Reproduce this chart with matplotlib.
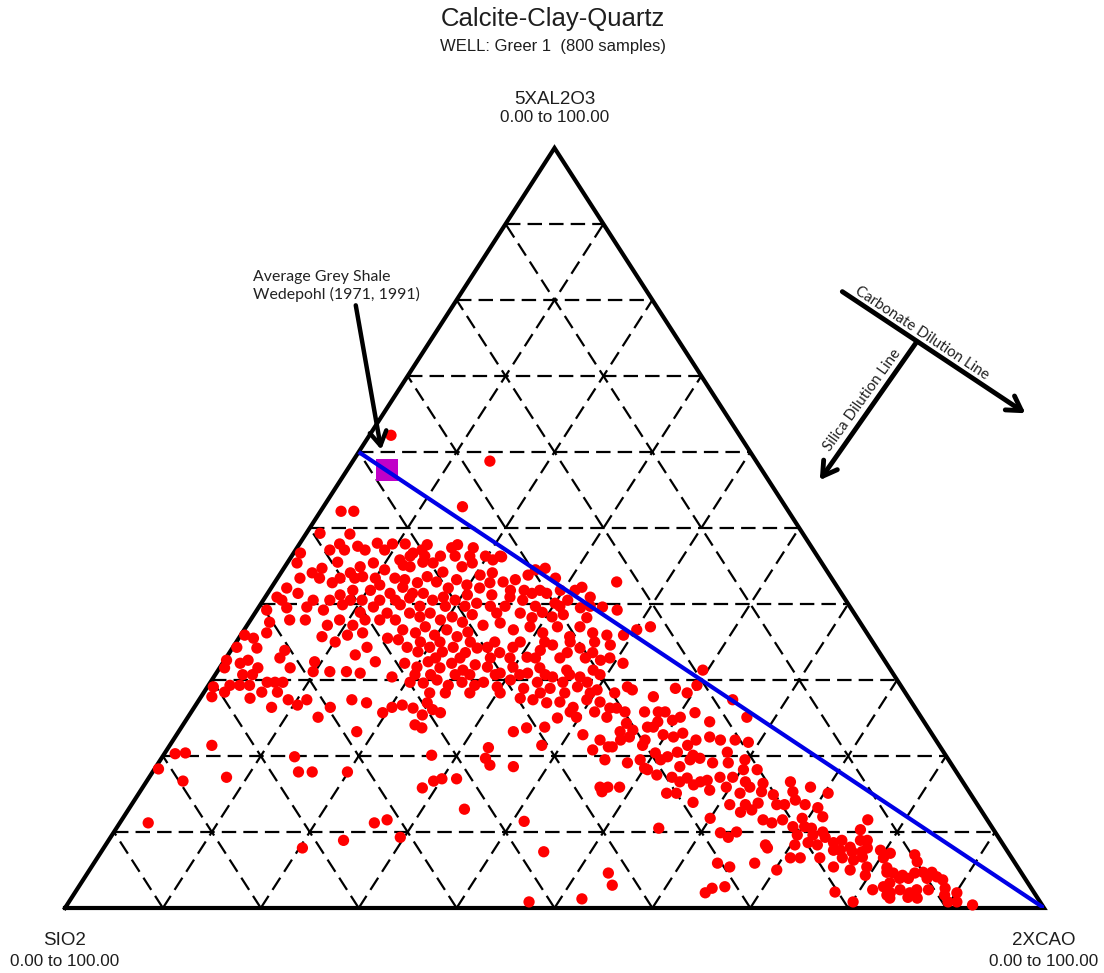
import matplotlib
matplotlib.use("Agg")
import matplotlib.pyplot as plt
from matplotlib.patches import FancyArrowPatch
import numpy as np

# Sample compositions in percent: (calcite = 2xCaO, clay = 5xAl2O3).
# Quartz (SiO2) is the remainder to 100.
clay_rich = [
    (2.2, 62.2), (14.0, 58.8), (14.2, 52.8), (2.1, 52.2), (3.4, 52.2),
    (1.4, 49.3), (4.5, 49.2), (4.1, 47.9), (6.1, 47.6), (7.9, 48.0), (9.5, 47.9),
    (10.8, 47.9), (12.2, 46.7), (0.7, 46.7), (1.0, 45.4), (3.2, 44.1), (3.9, 44.7),
    (5.1, 45.5), (7.1, 44.1), (7.7, 44.9), (8.8, 45.4), (10.4, 44.5), (11.3, 45.8),
    (12.8, 44.9), (1.6, 42.1), (1.2, 40.9), (3.1, 41.4), (5.1, 40.5), (5.9, 42.8),
    (7.5, 41.2), (8.5, 41.8), (8.6, 43.6), (10.3, 41.8), (10.9, 42.5), (12.5, 41.4),
    (13.4, 42.2), (14.8, 41.4), (1.0, 39.2), (2.9, 39.5), (4.9, 39.6), (6.8, 39.2),
    (8.4, 39.9), (10.7, 38.9), (11.7, 39.6), (13.5, 38.8), (14.3, 39.9), (15.8, 38.8),
    (3.5, 47.1), (5.0, 47.1), (7.1, 47.1), (9.1, 47.1), (2.3, 43.4), (4.3, 43.4),
    (6.4, 43.4), (7.9, 43.4), (10.0, 43.4), (12.0, 43.4), (1.9, 40.5), (6.8, 40.5),
    (8.9, 40.5), (10.1, 40.5), (11.9, 40.5), (13.5, 40.5), (4.0, 37.9), (5.6, 37.9),
    (9.1, 37.9), (11.7, 37.9), (13.2, 37.9), (14.8, 37.9),
]

main_cluster = [
    (12.9, 47.1), (13.1, 47.8), (15.8, 47.4), (16.2, 47.8), (18.0, 47.4), (12.0, 45.1),
    (13.8, 45.5), (14.9, 45.4), (16.5, 44.2), (18.1, 44.9), (18.9, 45.4), (20.5, 43.8),
    (21.6, 44.1), (20.8, 45.8), (21.5, 46.2), (13.1, 43.2), (14.6, 42.8), (15.2, 43.6),
    (16.5, 42.9), (18.1, 42.1), (18.4, 43.2), (19.8, 42.5), (21.3, 42.1), (22.0, 42.8),
    (23.3, 42.9), (24.4, 43.2), (25.4, 43.8), (25.8, 44.5), (26.7, 44.7), (28.4, 43.4),
    (31.7, 42.2), (33.2, 40.9), (34.9, 42.9), (14.8, 40.8), (15.9, 41.4), (17.3, 40.5),
    (18.2, 40.9), (19.6, 40.5), (20.5, 41.2), (22.0, 40.1), (23.0, 41.2), (25.0, 40.9),
    (26.5, 40.5), (27.0, 41.4), (28.5, 41.4), (30.0, 40.1), (31.1, 40.5), (32.9, 39.5),
    (35.1, 39.6), (36.8, 39.2), (17.1, 38.3), (17.9, 38.8), (19.4, 37.9), (20.4, 38.3),
    (21.8, 37.6), (22.3, 38.6), (24.7, 38.8), (27.1, 38.8), (28.6, 38.2), (29.3, 38.9),
    (30.6, 38.3), (31.6, 38.6), (34.2, 38.2), (16.2, 36.6), (17.7, 36.2), (18.3, 37.0),
    (19.8, 35.9), (20.7, 36.6), (22.2, 35.7), (23.0, 36.3), (17.8, 34.3), (19.2, 33.7),
    (20.1, 34.3), (21.7, 33.7), (22.5, 34.3), (24.1, 33.6), (25.0, 34.2), (18.6, 32.2),
    (20.1, 31.7), (20.9, 32.4), (22.5, 31.6), (23.4, 32.2), (25.0, 31.3), (25.9, 32.0),
    (20.4, 29.7), (21.8, 29.6), (23.0, 30.0), (24.5, 29.3), (25.7, 29.7), (27.2, 29.3),
    (12.1, 46.3), (13.6, 46.3), (15.2, 46.3), (16.7, 46.3), (18.2, 46.3), (19.8, 46.3),
    (21.3, 46.3), (24.6, 41.8), (26.0, 41.8), (27.6, 41.8), (29.7, 41.8), (31.2, 41.8),
    (16.4, 39.7), (19.0, 39.7), (21.0, 39.7), (23.6, 39.7), (25.1, 39.7), (28.2, 39.7),
    (30.7, 39.7), (33.8, 39.7), (18.8, 35.0), (20.8, 35.0), (23.9, 35.0), (26.4, 35.0),
    (29.0, 35.0), (31.5, 35.0), (34.1, 35.0), (36.6, 35.0), (21.4, 32.9), (23.9, 32.9),
    (27.0, 32.9), (29.0, 32.9), (31.6, 32.9), (34.1, 32.9), (36.7, 32.9), (39.2, 32.9),
    (20.4, 30.7), (22.0, 30.7), (24.5, 30.7), (26.0, 30.7), (28.6, 30.7), (31.1, 30.7),
    (33.7, 30.7), (36.2, 30.7), (39.3, 30.7), (23.1, 28.3), (24.7, 28.3), (27.2, 28.3),
    (30.3, 28.3), (34.4, 28.3), (36.9, 28.3), (39.5, 28.3), (42.0, 28.3),
]

siliceous = [
    (2.1, 37.6), (8.2, 37.2), (10.1, 35.0), (8.4, 35.7), (10.9, 35.9), (10.8, 37.2),
    (12.3, 36.2), (13.0, 33.3), (13.7, 34.3), (15.5, 32.4), (15.2, 35.5), (16.4, 35.3),
    (0.4, 35.9), (1.5, 35.5), (0.4, 34.3), (2.5, 34.2), (0.2, 32.6), (1.8, 32.2),
    (2.4, 32.6), (2.5, 36.2), (5.5, 33.9), (5.5, 32.9), (9.3, 32.4), (9.8, 31.1),
    (11.5, 31.1), (13.2, 31.1), (14.7, 30.9), (18.2, 30.4), (0.6, 29.1), (2.2, 29.3),
    (3.2, 29.3), (4.2, 29.3), (2.8, 30.7), (3.8, 30.7), (5.8, 29.7), (7.4, 29.7),
    (6.6, 29.7), (1.1, 27.8), (5.1, 27.6), (7.5, 28.4), (9.1, 27.4), (10.4, 26.7),
    (11.0, 27.4), (7.9, 26.4), (13.9, 26.4), (15.6, 27.4), (17.3, 27.0), (19.6, 25.7),
    (20.2, 26.4), (21.1, 26.7), (22.4, 26.3), (23.8, 25.4), (23.5, 27.0), (24.5, 26.1),
    (25.5, 25.7), (13.3, 25.1), (18.2, 23.2), (23.7, 24.1), (24.6, 23.7), (4.3, 21.4),
    (13.5, 19.9), (27.4, 20.1), (14.9, 17.9), (16.3, 17.9), (19.9, 17.9), (7.9, 17.2),
    (0.5, 31.6), (3.9, 31.6), (7.2, 31.6), (2.1, 28.4), (5.9, 28.4),
]

mixed = [
    (24.1, 37.2), (25.7, 37.5), (27.5, 36.6), (29.0, 37.0), (30.7, 36.2), (31.8, 37.0),
    (33.7, 35.7), (34.1, 37.0), (35.8, 36.2), (37.4, 35.9), (39.1, 35.9), (40.1, 36.6),
    (41.3, 37.0), (26.0, 34.3), (27.6, 33.6), (28.6, 34.3), (30.7, 33.0), (31.6, 33.9),
    (32.5, 34.6), (34.5, 33.6), (35.5, 34.2), (37.1, 33.6), (38.4, 32.6), (38.4, 34.6),
    (40.9, 32.2), (27.3, 31.7), (29.0, 30.9), (29.9, 31.7), (31.8, 30.9), (32.7, 31.6),
    (34.6, 30.4), (35.6, 31.3), (37.4, 30.4), (38.3, 31.3), (27.9, 29.7), (29.6, 29.1),
    (30.5, 30.0), (32.4, 28.9), (33.4, 29.7), (35.1, 28.9), (36.0, 29.7), (37.8, 29.1),
    (38.5, 29.7), (40.0, 28.7), (42.9, 29.1), (43.6, 28.7), (32.7, 27.6), (34.1, 27.4),
    (35.7, 27.0), (37.0, 27.1), (38.7, 26.4), (39.6, 27.4), (41.1, 27.1), (42.5, 26.3),
    (43.2, 26.3), (46.2, 27.8), (47.9, 28.9), (49.4, 28.3), (49.5, 31.3), (49.9, 29.3),
    (37.8, 25.0), (39.7, 25.1), (42.8, 25.1), (45.2, 24.3), (46.3, 23.4), (47.6, 23.8),
    (47.7, 25.8), (48.3, 24.5), (49.7, 24.7), (50.3, 25.1), (51.5, 25.7), (53.6, 24.5),
    (54.5, 27.4), (57.1, 25.1), (34.2, 23.2), (35.3, 23.7), (37.1, 23.8), (41.5, 22.8),
    (43.6, 22.1), (44.9, 21.2), (45.1, 23.2), (46.4, 22.5), (48.3, 21.4), (48.2, 23.8),
    (49.7, 22.8), (50.9, 22.5), (51.6, 23.0), (52.9, 21.4), (54.6, 22.5), (38.0, 21.4),
    (43.5, 20.8), (45.3, 21.2), (32.7, 21.1), (34.0, 18.8), (36.5, 18.6), (45.4, 19.5),
    (47.9, 19.1), (50.0, 18.4), (50.1, 20.4), (51.6, 19.9), (52.3, 20.5), (53.5, 18.6),
    (54.1, 20.1), (55.0, 19.7), (56.6, 19.1), (57.4, 20.5), (58.2, 19.1), (60.2, 18.2),
    (50.4, 18.2), (51.7, 17.5), (53.4, 17.2), (55.0, 17.1), (57.2, 16.8), (58.3, 17.2),
    (59.6, 17.2), (46.7, 15.9), (47.5, 15.9), (48.7, 15.9), (53.9, 15.1), (54.9, 15.1),
    (56.1, 16.2), (58.1, 15.5), (59.6, 15.9), (61.4, 15.1), (62.0, 15.9), (61.6, 18.2),
    (58.9, 21.8), (38.7, 25.8), (41.2, 25.8), (44.3, 25.8), (46.3, 25.8), (48.4, 25.8),
    (45.7, 22.1), (48.2, 22.1), (53.4, 22.1), (55.9, 22.1), (57.4, 22.1), (49.0, 19.5),
    (51.1, 19.5), (54.1, 19.5), (59.7, 19.5), (54.5, 16.6), (56.6, 16.6), (61.2, 16.6),
    (65.8, 16.6),
]

calcareous = [
    (63.1, 16.4), (63.5, 15.3), (57.2, 13.9), (62.7, 12.6), (63.7, 12.9), (63.9, 13.8),
    (64.9, 14.9), (65.9, 13.6), (66.7, 15.3), (67.5, 14.2), (68.2, 15.9), (70.3, 13.2),
    (70.4, 15.1), (60.0, 11.8), (65.5, 11.6), (66.6, 11.2), (67.5, 11.6), (69.0, 10.7),
    (69.4, 11.8), (70.2, 10.7), (71.0, 10.5), (71.4, 12.0), (55.4, 10.5), (62.0, 9.9),
    (63.1, 9.3), (63.6, 10.0), (70.0, 9.6), (71.6, 9.6), (73.0, 9.3), (67.4, 8.3),
    (67.8, 7.9), (70.4, 8.3), (71.6, 8.6), (72.7, 8.3), (74.2, 8.6), (74.9, 8.9),
    (76.2, 8.0), (76.1, 10.3), (76.2, 11.6), (76.8, 8.9), (78.0, 7.9), (76.7, 7.4),
    (75.4, 7.6), (76.1, 6.6), (77.4, 6.3), (78.1, 6.7), (79.2, 5.4), (79.5, 7.6),
    (63.7, 5.9), (65.2, 5.4), (67.5, 5.9), (70.2, 5.0), (70.8, 6.6), (71.8, 6.6),
    (73.8, 6.6), (75.8, 5.4), (77.7, 5.0), (81.3, 5.3), (80.3, 6.6), (82.3, 4.6),
    (77.6, 2.1), (80.1, 0.8), (64.4, 2.0), (64.8, 2.6), (66.0, 2.8), (81.3, 2.4),
    (82.2, 2.8), (83.3, 2.0), (72.4, 10.0), (74.7, 7.6), (77.5, 8.9), (77.7, 7.4),
    (79.6, 4.3), (61.1, 13.6), (62.7, 13.6), (66.7, 13.6), (68.8, 13.6),
]

calcite_end = [
    (80.7, 7.2), (81.6, 4.7), (83.3, 7.0), (84.0, 6.1), (83.4, 4.3), (84.5, 4.6),
    (85.3, 4.7), (86.2, 4.7), (87.0, 4.1), (83.3, 3.9), (84.2, 3.9), (86.1, 3.9),
    (82.6, 3.3), (84.1, 2.4), (85.3, 2.0), (85.8, 2.4), (87.0, 2.4), (87.8, 3.7),
    (88.6, 2.6), (83.1, 1.7), (83.6, 1.3), (85.4, 1.4), (86.4, 1.3), (89.0, 1.7),
    (90.1, 2.0), (89.8, 0.8), (90.7, 0.8), (92.5, 0.4),
]

quartz_rich = [
    (1.1, 20.3), (2.1, 20.4), (0.4, 18.3), (3.7, 16.7), (2.9, 11.2), (20.3, 7.9),
    (24.0, 8.9), (28.6, 15.8), (29.3, 16.7), (30.0, 17.0), (31.5, 17.0), (33.1, 19.7),
    (34.3, 13.0), (26.0, 11.2), (27.1, 11.6), (29.6, 9.3), (41.2, 11.4), (45.2, 7.4),
    (47.0, 0.8), (52.2, 1.2), (53.2, 4.6), (54.4, 3.0), (47.2, 15.3),
]

# Average grey shale (Wedepohl 1971, 1991) and the shale-calcite mixing line
grey_shale = (4.1, 57.6)
mixing_start = (0.0, 60.0)
mixing_end = (100.0, 0.0)

title = "Calcite-Clay-Quartz"
subtitle = "WELL: Greer 1  (800 samples)"
apex_labels = {"top": "5XAL2O3", "left": "SIO2", "right": "2XCAO"}
range_label = "0.00 to 100.00"


def tern(cal, clay):
    """Map (calcite, clay) percentages onto the plane of the triangle."""
    cal = np.asarray(cal, dtype=float)
    clay = np.asarray(clay, dtype=float)
    return cal + clay / 2.0, clay


W, H = 1104, 973
fig = plt.figure(figsize=(W / 100, H / 100), dpi=100)
fig.patch.set_facecolor("white")
ax = fig.add_axes([65 / W, (H - 908) / H, 979 / W, 760 / H])
ax.set_xlim(0, 100)
ax.set_ylim(0, 100)
ax.axis("off")

# dashed 10 % grid in the three directions
dash = dict(color="black", lw=1.6, linestyle=(0, (6.5, 3.2)), zorder=1)
for k in range(10, 100, 10):
    x, y = tern([0, 100 - k], [k, k])
    ax.plot(x, y, **dash)
    x, y = tern([k, k], [0, 100 - k])
    ax.plot(x, y, **dash)
    x, y = tern([100 - k, 0], [0, 100 - k])
    ax.plot(x, y, **dash)

# triangle outline
x, y = tern([0, 100, 0, 0], [0, 0, 100, 0])
ax.plot(x, y, color="black", lw=3.0, solid_joinstyle="miter",
        solid_capstyle="projecting", zorder=2, clip_on=False)

# samples
groups = [clay_rich, main_cluster, siliceous, mixed, calcareous, calcite_end, quartz_rich]
for g in groups:
    cal, clay = zip(*g)
    x, y = tern(cal, clay)
    ax.scatter(x, y, s=66, color="#ff0000", edgecolors="none", zorder=3, clip_on=False)

# grey shale reference point and mixing line
gx, gy = tern(*grey_shale)
ax.scatter([gx], [gy], s=16 ** 2, marker="s", color="#c000c8", edgecolors="none", zorder=4)
x, y = tern([mixing_start[0], mixing_end[0]], [mixing_start[1], mixing_end[1]])
ax.plot(x, y, color="#0000e6", lw=3.0, zorder=5, solid_capstyle="butt")

# annotation pointing to the grey shale
note_font = dict(family=["Lato", "DejaVu Sans"], color="#222222")
ax.text(19.2, 81.8, "Average Grey Shale\nWedepohl (1971, 1991)", ha="left", va="center",
        size=11.4, linespacing=1.25, clip_on=False, **note_font)
head = "->,head_length=0.5,head_width=0.3"
ax.add_patch(FancyArrowPatch((29.7, 79.3), (32.3, 60.3), arrowstyle=head,
                             mutation_scale=20, lw=3.2, color="black", zorder=6, clip_on=False,
                             shrinkA=0, shrinkB=0))

# dilution direction arrows
ax.add_patch(FancyArrowPatch((79.4, 81.1), (98.1, 65.1), arrowstyle=head,
                             mutation_scale=20, lw=3.5, color="black", zorder=6, clip_on=False,
                             shrinkA=0, shrinkB=0))
ax.add_patch(FancyArrowPatch((87.0, 74.5), (77.1, 56.3), arrowstyle=head,
                             mutation_scale=20, lw=3.5, color="black", zorder=6, clip_on=False,
                             shrinkA=0, shrinkB=0))
ax.text(87.5, 75.7, "Carbonate Dilution Line", rotation=-33.5, rotation_mode="anchor",
        ha="center", va="center", size=10.8, clip_on=False, **note_font)
ax.text(81.4, 66.8, "Silica Dilution Line", rotation=54.3, rotation_mode="anchor",
        ha="center", va="center", size=10.8, clip_on=False, **note_font)

# apex labels
lab = dict(family=["Liberation Sans", "DejaVu Sans"], color="#1e1e1e", ha="center", va="center")
ax.text(50, 106.4, apex_labels["top"], size=13.5, clip_on=False, **lab)
ax.text(50, 104.0, range_label, size=12.3, clip_on=False, **lab)
ax.text(0, -4.3, apex_labels["left"], size=13.5, clip_on=False, **lab)
ax.text(0, -7.1, range_label, size=12.3, clip_on=False, **lab)
ax.text(100, -4.3, apex_labels["right"], size=13.5, clip_on=False, **lab)
ax.text(100, -7.1, range_label, size=12.3, clip_on=False, **lab)

# titles
fig.text(0.501, 1 - 19 / H, title, size=18.5, **lab)
fig.text(0.501, 1 - 46 / H, subtitle, size=12, **lab)

fig.savefig("out.png", dpi=100, facecolor="white")
